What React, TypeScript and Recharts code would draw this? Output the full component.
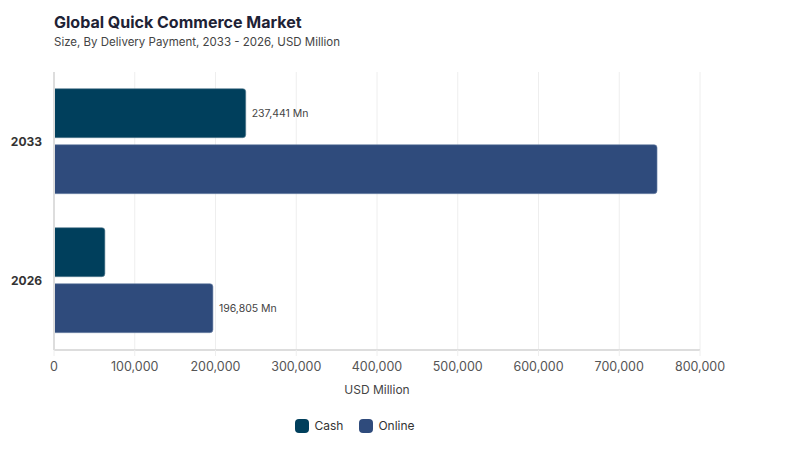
import React from "react";
import { Bar, BarChart, CartesianGrid, LabelList, Legend, XAxis, YAxis } from "recharts";

const years = ["2033", "2026"];
const cash = [237441, 63000];
const online = [746800, 196805];
const cashLabels = ["237,441 Mn", ""];
const onlineLabels = ["", "196,805 Mn"];
const xTicks = [0, 100000, 200000, 300000, 400000, 500000, 600000, 700000, 800000];

const data = years.map((year, i) => ({
  year,
  Cash: cash[i],
  Online: online[i],
  cashLabel: cashLabels[i],
  onlineLabel: onlineLabels[i],
}));

const font = "Inter, 'Noto Sans', sans-serif";

// legend with rounded square swatches
function LegendContent(props: any) {
  const items = props.payload || [];
  return (
    <div style={{ display: "flex", justifyContent: "center", gap: 16, fontFamily: font }}>
      {items.map((item: any) => (
        <div key={item.value} style={{ display: "flex", alignItems: "center", gap: 5 }}>
          <span
            style={{
              display: "inline-block",
              width: 14,
              height: 14,
              borderRadius: 4,
              background: item.color,
            }}
          />
          <span style={{ fontSize: 12, color: "#333" }}>{item.value}</span>
        </div>
      ))}
    </div>
  );
}

export default function App() {
  return (
    <div
      style={{
        position: "absolute",
        left: 0,
        top: 0,
        width: 800,
        height: 450,
        background: "#fff",
        fontFamily: font,
      }}
    >
      <div style={{ position: "absolute", left: 54, top: 11, color: "#1e2235" }}>
        <div style={{ fontSize: 16, fontWeight: 700, lineHeight: "22px" }}>
          Global Quick Commerce Market
        </div>
        <div style={{ fontSize: 11.5, color: "#444", lineHeight: "18px" }}>
          Size, By Delivery Payment, 2033 - 2026, USD Million
        </div>
      </div>
      <BarChart
        width={800}
        height={450}
        data={data}
        layout="vertical"
        margin={{ top: 72, right: 100, bottom: 17, left: 10 }}
        barCategoryGap="12%"
        barGap={7}
      >
        <CartesianGrid horizontal={false} stroke="#eeeeee" />
        <XAxis
          type="number"
          domain={[0, 800000]}
          ticks={xTicks}
          tickFormatter={(v) => v.toLocaleString("en-US")}
          tick={{ fontSize: 12.5, fill: "#555", fontFamily: font }}
          axisLine={{ stroke: "#dddddd", strokeWidth: 2 }}
          tickLine={{ stroke: "#eeeeee" }}
          tickSize={6}
          tickMargin={6}
          height={68}
          label={{
            value: "USD Million",
            position: "insideBottom",
            offset: 24,
            fontSize: 12,
            fill: "#444",
            fontFamily: font,
          }}
        />
        <YAxis
          type="category"
          dataKey="year"
          width={44}
          tick={{ fontSize: 12, fill: "#333", fontWeight: 700, fontFamily: font }}
          axisLine={{ stroke: "#dddddd", strokeWidth: 2 }}
          tickLine={false}
          tickMargin={6}
        />
        <Legend verticalAlign="bottom" content={LegendContent} />
        <Bar
          dataKey="Cash"
          fill="#003f5c"
          stroke="#5a7f92"
          strokeWidth={0.6}
          radius={[0, 3, 3, 0]}
          isAnimationActive={false}
        >
          <LabelList dataKey="cashLabel" position="right" offset={6} fontSize={10.5} fill="#444" fontFamily={font} />
        </Bar>
        <Bar
          dataKey="Online"
          fill="#2f4b7c"
          stroke="#7186aa"
          strokeWidth={0.6}
          radius={[0, 3, 3, 0]}
          isAnimationActive={false}
        >
          <LabelList dataKey="onlineLabel" position="right" offset={6} fontSize={10.5} fill="#444" fontFamily={font} />
        </Bar>
      </BarChart>
    </div>
  );
}
